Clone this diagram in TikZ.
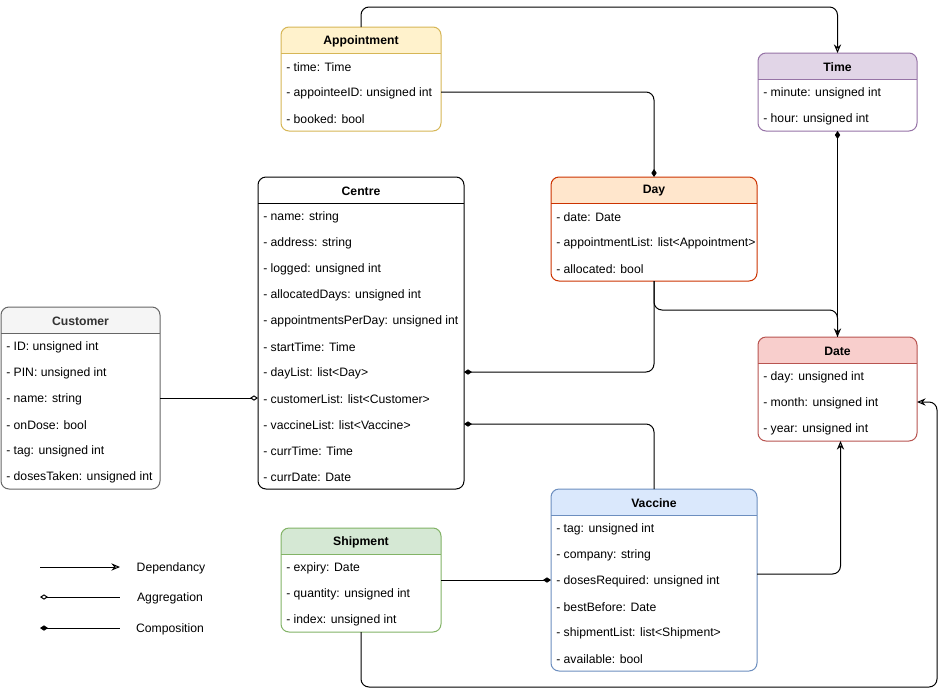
\documentclass[tikz,border=0pt]{standalone}
\usepackage{fontspec}
\setmainfont{Liberation Sans}
\usetikzlibrary{arrows.meta}
\definecolor{apfill}{HTML}{FFF2CC}\definecolor{apstroke}{HTML}{D6B656}
\definecolor{timefill}{HTML}{E1D5E7}\definecolor{timestroke}{HTML}{9673A6}
\definecolor{dayfill}{HTML}{FFE6CC}\definecolor{daystroke}{HTML}{CC3300}
\definecolor{datefill}{HTML}{F8CECC}\definecolor{datestroke}{HTML}{B85450}
\definecolor{custfill}{HTML}{F5F5F5}\definecolor{custstroke}{HTML}{666666}
\definecolor{custtitle}{HTML}{333333}
\definecolor{vacfill}{HTML}{DAE8FC}\definecolor{vacstroke}{HTML}{6C8EBF}
\definecolor{shipfill}{HTML}{D5E8D4}\definecolor{shipstroke}{HTML}{82B366}
\newcommand{\umlclass}[9]{%
  % #1 name, #2 x, #3 y, #4 width, #5 rows, #6 fill, #7 stroke, #8 title, #9 row list
  \pgfmathsetmacro\boxh{26+#5*26}%
  \node[classbg, minimum width={#4*0.75pt}, minimum height={\boxh*0.75pt}, anchor=north west] (#1) at (#2,#3) {};
  \fill[#6] (#2,#3+26) [rounded corners=6pt] -- (#2,#3) -- (#2+#4,#3) [sharp corners] -- (#2+#4,#3+26) -- cycle;
  \draw[#7, line width=0.75pt] (#2,#3+26) -- (#2+#4,#3+26);
  \draw[#7, line width=0.75pt, rounded corners=6pt] (#1.north west) rectangle (#1.south east);
  \node[titletext] (#1-t) at (#2+#4/2,#3+14) {#8};
  \foreach \t [count=\i] in {#9} {
    \node[rowtext] (#1-\i) at (#2+5,#3+14+26*\i) {\t};
  }%
}
\begin{document}
\begin{tikzpicture}[x=0.75pt,y=-0.75pt,
  classbg/.style={fill=white, draw=none, inner sep=0pt, outer sep=0pt},
  titletext/.style={font=\fontsize{9.15pt}{11pt}\selectfont\bfseries, inner sep=0pt},
  rowtext/.style={font=\fontsize{9.15pt}{11pt}\selectfont, inner sep=0pt, anchor=west},
  legtext/.style={font=\fontsize{9.15pt}{11pt}\selectfont, inner sep=0pt},
  conn/.style={line width=0.75pt, black, rounded corners=6pt},
  dep/.style={conn, -{Stealth[open, length=6.5pt, width=5.5pt, inset=2.2pt]}},
  compend/.style={conn, -{Diamond[length=6pt, width=4pt]}},
  compstart/.style={conn, {Diamond[length=6pt, width=4pt]}-},
  aggend/.style={conn, -{Diamond[open, length=6pt, width=4pt]}},
  aggstart/.style={conn, {Diamond[open, length=6pt, width=4pt]}-}]
\useasboundingbox (0,0) rectangle (947,697);
\fill[white] (0,0) rectangle (947,697);

\umlclass{appointment}{281}{27}{160}{3}{apfill}{apstroke}{Appointment}{- time: Time,- appointeeID: unsigned int,- booked: bool}
\umlclass{time}{758}{53}{159}{2}{timefill}{timestroke}{Time}{- minute: unsigned int,- hour: unsigned int}
\umlclass{centre}{258}{177}{206}{11}{white}{black}{Centre}{- name: string,- address: string,- logged: unsigned int,- allocatedDays: unsigned int,- appointmentsPerDay: unsigned int,- startTime: Time,- dayList: list<Day>,- customerList: list<Customer>,- vaccineList: list<Vaccine>,- currTime: Time,- currDate: Date}
\umlclass{day}{551}{177}{206}{3}{dayfill}{daystroke}{Day}{- date: Date,- appointmentList: list<Appointment>,- allocated: bool}
\umlclass{date}{758}{337}{159}{3}{datefill}{datestroke}{Date}{- day: unsigned int,- month: unsigned int,- year: unsigned int}
\umlclass{customer}{1}{307}{159}{6}{custfill}{custstroke}{\color{custtitle}Customer}{- ID: unsigned int,- PIN: unsigned int,- name: string,- onDose: bool,- tag: unsigned int,- dosesTaken: unsigned int}
\umlclass{vaccine}{551}{489}{206}{6}{vacfill}{vacstroke}{Vaccine}{- tag: unsigned int,- company: string,- dosesRequired: unsigned int,- bestBefore: Date,- shipmentList: list<Shipment>,- available: bool}
\umlclass{shipment}{281}{528}{160}{3}{shipfill}{shipstroke}{Shipment}{- expiry: Date,- quantity: unsigned int,- index: unsigned int}

% route coordinates
\coordinate (toprow) at (0,7);
\coordinate (dayjoin) at (0,310);
\coordinate (botright) at (937,687);

% connectors
\draw[dep] (appointment.north) -- (appointment.north |- toprow) -- (time.north |- toprow) -- (time.north);
\draw[compend] ([yshift=0.75pt]appointment.east |- appointment-2) -| (day.north);
\draw[compstart] (time.south) -- (date.north);
\draw[dep] (day.south) -- (day.south |- dayjoin) -- (date.north |- dayjoin) -- (date.north);
\draw[compstart] ([yshift=0.75pt]centre.east |- centre-7) -| (day.south);
\draw[aggend] ([yshift=0.75pt]customer.east |- centre-8) -- ([yshift=0.75pt]centre.west |- centre-8);
\draw[compstart] ([yshift=0.75pt]centre.east |- centre-9) -| (vaccine.north);
\draw[compend] ([yshift=0.75pt]shipment.east |- vaccine-3) -- ([yshift=0.75pt]vaccine.west |- vaccine-3);
\draw[dep] ([yshift=4.5pt]vaccine.east) -| ([xshift=2.25pt]date.south);
\draw[dep] (shipment.south) |- (botright) |- ([yshift=0.75pt]date.east |- date-2);

% legend
\coordinate (l1a) at (40,567); \coordinate (l1b) at (120,567);
\coordinate (l2a) at (40,597); \coordinate (l2b) at (120,597);
\coordinate (l3a) at (40,628); \coordinate (l3b) at (120,628);
\draw[dep] (l1a) -- (l1b);
\draw[aggstart] (l2a) -- (l2b);
\draw[compstart] (l3a) -- (l3b);
\node[legtext] (leg1) at (171,568) {Dependancy};
\node[legtext] (leg2) at (170,598) {Aggregation};
\node[legtext] (leg3) at (170,629) {Composition};
\end{tikzpicture}
\end{document}
